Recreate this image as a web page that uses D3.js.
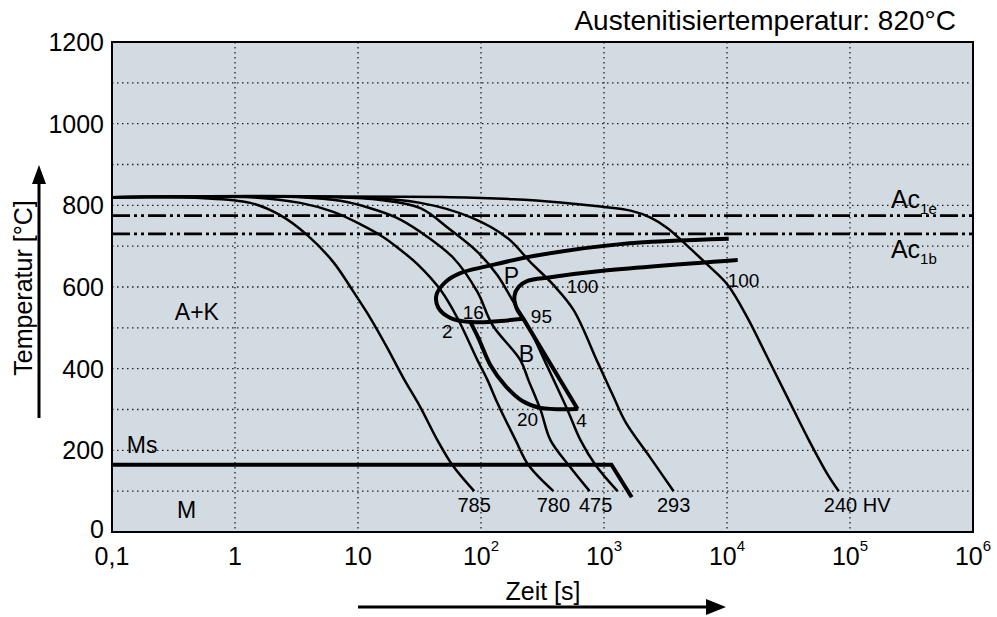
<!DOCTYPE html>
<html lang="de">
<head>
	<meta charset="UTF-8"/>
	<title>ZTU-Schaubild</title>
	<script src="https://d3js.org/d3.v7.min.js"></script>
	<style>
		body { margin: 0; background-color: white; }
		svg text { font-family: "Liberation Sans", Arial, sans-serif; fill: black; }
	</style>
</head>
<body>
<script>
	var w = 997;
	var h = 617;
	var margin = {top: 42, right: 24, bottom: 85, left: 112};

	// axis ticks
	var timeTicks = [0.1, 1, 10, 100, 1000, 10000, 100000, 1000000];
	var timeTickBase = ["0,1", "1", "10", "10", "10", "10", "10", "10"];
	var timeTickExp = ["", "", "", "2", "3", "4", "5", "6"];
	var tempTicks = [0, 200, 400, 600, 800, 1000, 1200];
	var tempGrid = [100, 200, 300, 400, 500, 600, 700, 800, 900, 1000, 1100];

	// Abkuehlkurven [t in s, T in °C]
	var curve785 = [[0.1,820],[0.52,818],[1.33,806],[2.33,776],[3.87,727],[6.3,661],[9.2,588],[12.6,524],[17.3,451],[23.4,377],[32.1,306],[44.2,225],[58.5,164],[88,100]];
	var curve780 = [[0.1,820],[1.33,820],[3.39,806],[6.3,784],[10.4,754],[16.1,722],[22.1,691],[30.4,656],[46.8,593],[64.3,524],[93.5,421],[113,372],[136,316],[191,225],[243,164],[388,100]];
	var curve475 = [[0.1,820],[3.39,820],[7.2,811],[12.6,793],[20.1,771],[32.1,735],[59.7,671],[93.5,588],[124,507],[209,421],[243,372],[305,299],[367,225],[515,164],[764,100]];
	var curve4 = [[0.1,820],[5.95,820],[15.2,813],[32.1,793],[56.4,740],[93.5,686],[136,629],[184,563],[239,507],[348,404],[505,299],[644,225],[853,164],[1288,100]];
	var curve293 = [[0.1,820],[8.65,820],[32.1,806],[82,771],[164,720],[252,661],[388,605],[565,544],[887,416],[1175,336],[1497,269],[2393,181],[3680,100]];
	var curve240 = [[0.1,820],[56.4,820],[184,815],[443,807],[938,797],[1644,787],[2393,770],[3289,744],[4786,700],[6966,654],[10140,605],[14720,524],[21430,426],[31190,328],[45390,230],[66070,140],[81100,100]];
	var coolingCurves = [curve785, curve780, curve475, curve4, curve293, curve240];
	var hardness = ["785", "780", "475", "", "293", "240 HV"];

	// Umwandlungslinien
	var pearliteStart = [[10330,718],[1364,705],[267,676],[113,651],[67.9,634],[51.3,612],[43.4,580],[45.0,549],[56.4,524],[82,514],[144,517],[221,522]];
	var pearliteEnd = [[12220,666],[938,639],[367,624],[239,615],[202,600],[187,578],[194,549],[221,522]];
	var bainiteEnd = [[82,514],[95.3,475],[119,409],[158,358],[217,321],[305,304],[610,301]];
	var bainiteRight = [[221,522],[610,301]];
	var msLine = [[0.1,165],[1150,165],[1680,85]];

	// Ac-Temperaturen
	var acTemps = [775, 730];
	var acNames = ["1e", "1b"];

	// Beschriftungen [Text, t, T]
	var regionLabels = [["A+K",0.49,519],["P",177,607],["B",234,416]];
	var percentLabels = [["2",53.3,475],["16",86.7,522],["95",310,512],["100",669,585],["20",239,260],["4",656,257]];

	var svg = d3.select("body")
				.append("svg")
				.attr("width", w)
				.attr("height", h);

	var xScale = d3.scaleLog()
					.domain([0.1, 1000000])
					.range([margin.left, w - margin.right]);

	var yScale = d3.scaleLinear()
					.domain([0, 1200])
					.range([h - margin.bottom, margin.top]);

	var plotW = w - margin.left - margin.right;
	var plotH = h - margin.top - margin.bottom;

	svg.append("rect")
		.attr("x", margin.left)
		.attr("y", margin.top)
		.attr("width", plotW)
		.attr("height", plotH)
		.attr("fill", "#d3dbe2");

	// dotted grid
	svg.selectAll(".vgrid")
		.data(timeTicks.slice(1, -1))
		.enter()
		.append("line")
		.attr("x1", function(d){ return xScale(d); })
		.attr("x2", function(d){ return xScale(d); })
		.attr("y1", margin.top)
		.attr("y2", h - margin.bottom)
		.attr("stroke", "#222")
		.attr("stroke-width", 1.3)
		.attr("stroke-dasharray", "1.5,3.5");

	svg.selectAll(".hgrid")
		.data(tempGrid)
		.enter()
		.append("line")
		.attr("x1", margin.left)
		.attr("x2", w - margin.right)
		.attr("y1", function(d){ return yScale(d); })
		.attr("y2", function(d){ return yScale(d); })
		.attr("stroke", "#222")
		.attr("stroke-width", 1.3)
		.attr("stroke-dasharray", "1.5,3.5");

	// Ac1e / Ac1b dash-dot lines
	svg.selectAll(".ac")
		.data(acTemps)
		.enter()
		.append("line")
		.attr("x1", margin.left)
		.attr("x2", w - margin.right)
		.attr("y1", function(d){ return yScale(d); })
		.attr("y2", function(d){ return yScale(d); })
		.attr("stroke", "black")
		.attr("stroke-width", 2.8)
		.attr("stroke-dasharray", "18,4,3,4,3,4");

	var line = d3.line()
				.x(function(d){ return xScale(d[0]); })
				.y(function(d){ return yScale(d[1]); })
				.curve(d3.curveCatmullRom.alpha(0.5));

	var straight = d3.line()
				.x(function(d){ return xScale(d[0]); })
				.y(function(d){ return yScale(d[1]); });

	svg.selectAll(".cool")
		.data(coolingCurves)
		.enter()
		.append("path")
		.attr("d", line)
		.attr("fill", "none")
		.attr("stroke", "black")
		.attr("stroke-width", 2.5);

	[pearliteStart, pearliteEnd, bainiteEnd].forEach(function(c){
		svg.append("path")
			.attr("d", line(c))
			.attr("fill", "none")
			.attr("stroke", "black")
			.attr("stroke-width", 4)
			.attr("stroke-linejoin", "round");
	});

	[bainiteRight, msLine].forEach(function(c){
		svg.append("path")
			.attr("d", straight(c))
			.attr("fill", "none")
			.attr("stroke", "black")
			.attr("stroke-width", 4)
			.attr("stroke-linejoin", "miter");
	});

	// frame
	svg.append("rect")
		.attr("x", margin.left)
		.attr("y", margin.top)
		.attr("width", plotW)
		.attr("height", plotH)
		.attr("fill", "none")
		.attr("stroke", "black")
		.attr("stroke-width", 2);

	// hardness values below curve ends
	svg.selectAll(".hv")
		.data(coolingCurves)
		.enter()
		.append("text")
		.attr("x", function(d){ return xScale(d[d.length - 1][0]); })
		.attr("y", yScale(49))
		.attr("text-anchor", function(d, i){ return i == 5 ? "start" : "middle"; })
		.attr("dx", function(d, i){ return i == 5 ? -15 : (i == 2 ? 6 : 0); })
		.style("font-size", "20px")
		.text(function(d, i){ return hardness[i]; });

	svg.selectAll(".region")
		.data(regionLabels)
		.enter()
		.append("text")
		.attr("x", function(d){ return xScale(d[1]); })
		.attr("y", function(d){ return yScale(d[2]); })
		.attr("text-anchor", "middle")
		.style("font-size", "23px")
		.text(function(d){ return d[0]; });

	svg.selectAll(".pct")
		.data(percentLabels)
		.enter()
		.append("text")
		.attr("x", function(d){ return xScale(d[1]); })
		.attr("y", function(d){ return yScale(d[2]); })
		.attr("text-anchor", "middle")
		.style("font-size", "19px")
		.text(function(d){ return d[0]; });

	// 100 % pearlite at the slowest curve
	svg.append("text")
		.attr("x", xScale(curve240[10][0]))
		.attr("y", yScale(600))
		.style("font-size", "19px")
		.text("100");

	svg.append("text")
		.attr("x", xScale(0.132))
		.attr("y", yScale(193))
		.style("font-size", "23px")
		.text("Ms");

	svg.append("text")
		.attr("x", xScale(0.338))
		.attr("y", yScale(34))
		.style("font-size", "23px")
		.text("M");

	var acText = svg.selectAll(".acl")
		.data(acTemps)
		.enter()
		.append("text")
		.attr("x", xScale(215000))
		.attr("y", function(d, i){ return i == 0 ? yScale(d) - 8 : yScale(d) + 24; })
		.style("font-size", "25px");
	acText.append("tspan").text("Ac");
	acText.append("tspan")
		.attr("dy", 6)
		.style("font-size", "15px")
		.text(function(d, i){ return acNames[i]; });

	// tick labels
	var xt = svg.selectAll(".xt")
		.data(timeTicks)
		.enter()
		.append("text")
		.attr("x", function(d){ return xScale(d); })
		.attr("y", h - margin.bottom + 33)
		.attr("text-anchor", "middle")
		.style("font-size", "25px");
	xt.append("tspan").text(function(d, i){ return timeTickBase[i]; });
	xt.append("tspan")
		.attr("dy", -14)
		.style("font-size", "15px")
		.text(function(d, i){ return timeTickExp[i]; });

	svg.selectAll(".yt")
		.data(tempTicks)
		.enter()
		.append("text")
		.attr("x", margin.left - 8)
		.attr("y", function(d){ return yScale(d) + (d == 0 ? 6 : 9); })
		.attr("text-anchor", "end")
		.style("font-size", "25px")
		.text(function(d){ return d; });

	// titles
	svg.append("text")
		.attr("x", 956)
		.attr("y", 30)
		.attr("text-anchor", "end")
		.style("font-size", "28px")
		.text("Austenitisiertemperatur: 820°C");

	svg.append("text")
		.attr("x", 543)
		.attr("y", 600)
		.attr("text-anchor", "middle")
		.style("font-size", "25px")
		.text("Zeit [s]");

	svg.append("text")
		.attr("transform", "translate(32,288) rotate(-90)")
		.attr("text-anchor", "middle")
		.style("font-size", "25px")
		.text("Temperatur [°C]");

	// arrows
	svg.append("line")
		.attr("x1", 358).attr("y1", 607)
		.attr("x2", 710).attr("y2", 607)
		.attr("stroke", "black")
		.attr("stroke-width", 3);
	svg.append("path")
		.attr("d", "M726,607 L706,599 L706,615 Z")
		.attr("fill", "black");

	svg.append("line")
		.attr("x1", 39).attr("y1", 418)
		.attr("x2", 39).attr("y2", 180)
		.attr("stroke", "black")
		.attr("stroke-width", 3);
	svg.append("path")
		.attr("d", "M39,165 L32,184 L46,184 Z")
		.attr("fill", "black");
</script>
</body>
</html>
